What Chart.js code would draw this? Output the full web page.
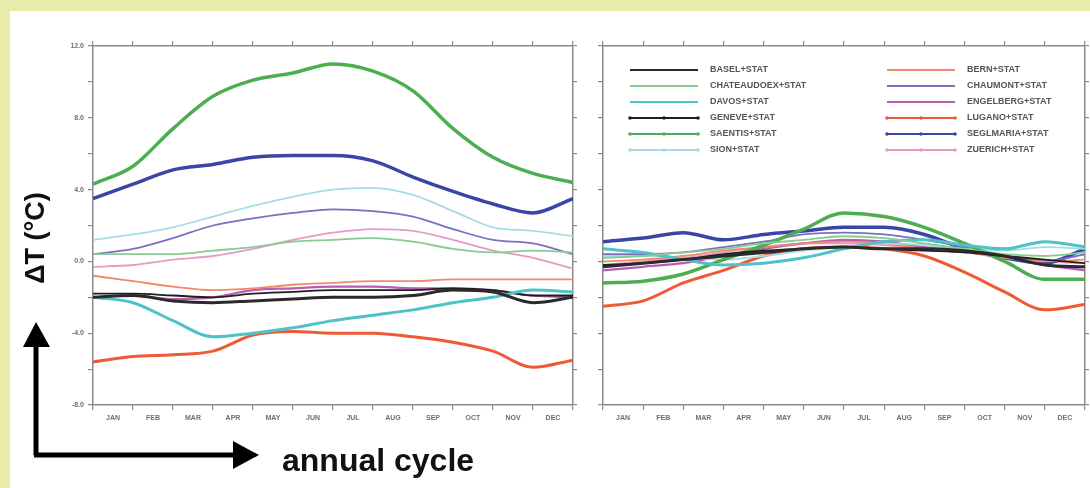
<!DOCTYPE html>
<html>
<head>
<meta charset="utf-8">
<script src="https://cdn.jsdelivr.net/npm/chart.js@4/dist/chart.umd.min.js"></script>
<style>
  html, body { margin: 0; padding: 0; }
  body { width: 1090px; height: 488px; background: #e8eca8; position: relative; overflow: hidden; font-family: 'Liberation Sans', Arial, sans-serif; }
  #sheet { position: absolute; left: 10px; top: 11px; width: 1080px; height: 477px; background: #fff; }
  .panel { position: absolute; }
  #leftBox { left: 50px; top: 37px; width: 535px; height: 399px; }
  #rightBox { left: 590px; top: 37px; width: 500px; height: 399px; }
  #ylab { position: absolute; left: 35px; top: 238px; transform: translate(-50%, -50%) rotate(-90deg); font-weight: bold; font-size: 27px; color: #111; white-space: nowrap; }
  #xlab { position: absolute; left: 282px; top: 444px; font-weight: bold; font-size: 32px; line-height: 1; color: #111; white-space: nowrap; }
  #arrows { position: absolute; left: 0; top: 0; }
</style>
</head>
<body>
<div id="sheet"></div>
<div class="panel" id="leftBox"><canvas id="leftChart"></canvas></div>
<div class="panel" id="rightBox"><canvas id="rightChart"></canvas></div>
<svg id="arrows" width="1090" height="488">
  <path d="M36 455 L36 345" stroke="#000" stroke-width="5" fill="none"/>
  <path d="M36 322 L23 347 L50 347 Z" fill="#000"/>
  <path d="M34 455 L236 455" stroke="#000" stroke-width="5" fill="none"/>
  <path d="M259 455 L233 441 L233 469 Z" fill="#000"/>
</svg>
<div id="ylab">ΔT (°C)</div>
<div id="xlab">annual cycle</div>
<script>
// month boundaries (x positions of the values) and month names (labels at centres)
const monthEdges = [0, 1, 2, 3, 4, 5, 6, 7, 8, 9, 10, 11, 12];
const monthLabels = ['JAN', 'FEB', 'MAR', 'APR', 'MAY', 'JUN', 'JUL', 'AUG', 'SEP', 'OCT', 'NOV', 'DEC'];
const yTicks = [-8, -6, -4, -2, 0, 2, 4, 6, 8, 10, 12];

const stations = ['BASEL+STAT', 'CHATEAUDOEX+STAT', 'DAVOS+STAT', 'GENEVE+STAT', 'SAENTIS+STAT', 'SION+STAT',
                  'BERN+STAT', 'CHAUMONT+STAT', 'ENGELBERG+STAT', 'LUGANO+STAT', 'SEGLMARIA+STAT', 'ZUERICH+STAT'];
const stationColors = ['#2a2a2a', '#86cc93', '#4fc2c8', '#1e1e1e', '#4cae50', '#a2dde2',
                       '#f2896a', '#7b6fc0', '#b85cb6', '#ee5a35', '#3a46a6', '#e79ac8'];
const lineWidths = [3, 1.8, 3, 1.8, 3.5, 1.8, 1.8, 1.8, 2.2, 3, 3.5, 1.8];
const hasMarkers = [false, false, false, true, true, true, false, false, false, true, true, true];

// left panel: dT at month boundaries
const leftBasel       = [-2.0, -1.9, -2.2, -2.3, -2.2, -2.1, -2.0, -2.0, -1.9, -1.6, -1.7, -2.3, -2.0];
const leftChateaudoex = [0.4, 0.4, 0.4, 0.6, 0.8, 1.1, 1.2, 1.3, 1.1, 0.7, 0.5, 0.6, 0.5];
const leftDavos       = [-2.0, -2.3, -3.3, -4.2, -4.0, -3.7, -3.3, -3.0, -2.7, -2.3, -2.0, -1.6, -1.7];
const leftGeneve      = [-1.8, -1.8, -1.9, -2.0, -1.8, -1.7, -1.6, -1.6, -1.6, -1.5, -1.6, -1.9, -1.9];
const leftSaentis     = [4.3, 5.3, 7.4, 9.2, 10.1, 10.5, 11.0, 10.6, 9.5, 7.4, 5.8, 4.9, 4.4];
const leftSion        = [1.2, 1.5, 1.9, 2.5, 3.1, 3.6, 4.0, 4.1, 3.7, 2.8, 1.9, 1.7, 1.4];
const leftBern        = [-0.8, -1.1, -1.4, -1.6, -1.5, -1.3, -1.2, -1.1, -1.1, -1.0, -1.0, -1.0, -1.0];
const leftChaumont    = [0.4, 0.7, 1.3, 2.0, 2.4, 2.7, 2.9, 2.8, 2.5, 1.8, 1.2, 1.0, 0.4];
const leftEngelberg   = [-2.0, -1.9, -2.1, -2.0, -1.6, -1.5, -1.4, -1.4, -1.5, -1.5, -1.6, -1.9, -2.0];
const leftLugano      = [-5.6, -5.3, -5.2, -5.0, -4.1, -3.9, -4.0, -4.0, -4.2, -4.5, -5.0, -5.9, -5.5];
const leftSeglmaria   = [3.5, 4.3, 5.1, 5.4, 5.8, 5.9, 5.9, 5.6, 4.7, 3.9, 3.2, 2.7, 3.5];
const leftZuerich     = [-0.3, -0.2, 0.1, 0.3, 0.7, 1.2, 1.6, 1.8, 1.7, 1.2, 0.6, 0.2, -0.4];

// right panel: dT at month boundaries
const rightBasel       = [-0.3, -0.1, 0.1, 0.3, 0.5, 0.7, 0.8, 0.7, 0.7, 0.6, 0.3, -0.2, -0.3];
const rightChateaudoex = [0.2, 0.3, 0.5, 0.7, 1.0, 1.2, 1.4, 1.3, 1.0, 0.7, 0.4, 0.3, 0.5];
const rightDavos       = [0.7, 0.5, 0.1, -0.2, -0.1, 0.2, 0.7, 1.1, 1.2, 0.9, 0.7, 1.1, 0.8];
const rightGeneve      = [-0.2, -0.1, 0.1, 0.4, 0.6, 0.7, 0.8, 0.7, 0.6, 0.5, 0.3, 0.1, -0.1];
const rightSaentis     = [-1.2, -1.1, -0.7, 0.1, 0.9, 1.8, 2.7, 2.5, 1.9, 1.0, 0.0, -1.0, -1.0];
const rightSion        = [0.3, 0.3, 0.2, 0.1, 0.3, 0.6, 0.8, 1.0, 0.9, 0.7, 0.6, 0.8, 0.7];
const rightBern        = [0.0, 0.1, 0.3, 0.6, 0.8, 1.0, 1.1, 1.0, 0.7, 0.5, 0.2, 0.0, 0.1];
const rightChaumont    = [0.4, 0.4, 0.5, 0.8, 1.1, 1.5, 1.6, 1.5, 1.2, 0.8, 0.3, 0.0, 0.4];
const rightEngelberg   = [-0.5, -0.3, -0.1, 0.3, 0.7, 1.0, 1.2, 1.1, 0.8, 0.6, 0.3, -0.2, -0.5];
const rightLugano      = [-2.5, -2.2, -1.2, -0.5, 0.3, 0.7, 0.8, 0.7, 0.3, -0.6, -1.7, -2.7, -2.4];
const rightSeglmaria   = [1.1, 1.3, 1.6, 1.2, 1.5, 1.7, 1.9, 1.9, 1.5, 0.7, 0.2, -0.1, 0.7];
const rightZuerich     = [-0.2, 0.0, 0.2, 0.5, 0.8, 1.0, 1.0, 0.9, 0.7, 0.5, 0.3, 0.0, -0.1];

const leftValues = [leftBasel, leftChateaudoex, leftDavos, leftGeneve, leftSaentis, leftSion,
                    leftBern, leftChaumont, leftEngelberg, leftLugano, leftSeglmaria, leftZuerich];
const rightValues = [rightBasel, rightChateaudoex, rightDavos, rightGeneve, rightSaentis, rightSion,
                     rightBern, rightChaumont, rightEngelberg, rightLugano, rightSeglmaria, rightZuerich];

const axisColor = '#8a8a8a';
const labelColor = '#6e6e6e';
const tickFont = { family: "'Liberation Sans', Arial, sans-serif", size: 7, weight: 'bold' };

// Two column station key, drawn into the right panel
const stationKey = {
    id: 'stationKey',
    afterDatasetsDraw(chart, args, opts) {
        if (!opts.show) return;
        const ctx = chart.ctx;
        const ca = chart.chartArea;
        ctx.save();
        ctx.font = "bold 9px 'Liberation Sans', Arial, sans-serif";
        ctx.textBaseline = 'middle';
        chart.data.datasets.forEach((ds, i) => {
            const col = i < 6 ? 0 : 1;
            const row = i % 6;
            const x0 = ca.left + (col ? 284 : 27);
            const x1 = x0 + 68;
            const y = ca.top + 24 + row * 16;
            ctx.strokeStyle = ds.borderColor;
            ctx.lineWidth = 2;
            ctx.beginPath();
            ctx.moveTo(x0, y);
            ctx.lineTo(x1, y);
            ctx.stroke();
            if (hasMarkers[i]) {
                ctx.fillStyle = ds.borderColor;
                [x0, (x0 + x1) / 2, x1].forEach(px => {
                    ctx.beginPath();
                    ctx.arc(px, y, 1.8, 0, Math.PI * 2);
                    ctx.fill();
                });
            }
            ctx.fillStyle = '#555';
            ctx.fillText(ds.label, x1 + 12, y);
        });
        ctx.restore();
    }
};

function makePanel(canvasId, values, showYLabels, showKey, yAxisWidth, rightWidth) {
    const datasets = stations.map((name, i) => ({
        label: name,
        data: monthEdges.map((m, j) => ({ x: m, y: values[i][j] })),
        borderColor: stationColors[i],
        borderWidth: lineWidths[i],
        pointRadius: 0,
        cubicInterpolationMode: 'monotone',
        fill: false
    }));

    return new Chart(canvasId, {
        type: 'line',
        data: { datasets },
        plugins: [stationKey],
        options: {
            responsive: true,
            maintainAspectRatio: false,
            animation: false,
            layout: { padding: 0 },
            plugins: {
                legend: { display: false },
                tooltip: { enabled: false },
                stationKey: { show: showKey }
            },
            scales: {
                x: {
                    type: 'linear', min: 0, max: 12,
                    afterBuildTicks: s => {
                        s.ticks = [];
                        for (let v = 0; v <= 12; v += 0.5) s.ticks.push({ value: v });
                    },
                    ticks: {
                        autoSkip: false, maxRotation: 0, padding: 4,
                        color: labelColor, font: tickFont,
                        callback: v => Number.isInteger(v) ? '' : monthLabels[Math.floor(v)]
                    },
                    grid: {
                        drawOnChartArea: false, tickLength: 5, lineWidth: 1.2,
                        tickColor: c => Number.isInteger(c.tick.value) ? axisColor : 'rgba(0,0,0,0)'
                    },
                    border: { color: axisColor, width: 1.5 },
                    afterFit: s => { s.height = 31; }
                },
                xTop: {
                    type: 'linear', position: 'top', min: 0, max: 12,
                    ticks: { stepSize: 1, display: false },
                    grid: { drawOnChartArea: false, tickLength: 5, lineWidth: 1.2, tickColor: axisColor },
                    border: { color: axisColor, width: 1.5 },
                    afterFit: s => { s.height = 9; }
                },
                y: {
                    type: 'linear', min: -8, max: 12,
                    afterBuildTicks: s => { s.ticks = yTicks.map(v => ({ value: v })); },
                    ticks: {
                        display: showYLabels, padding: 4,
                        color: labelColor, font: tickFont,
                        callback: v => v % 4 === 0 ? v.toFixed(1) : ''
                    },
                    grid: { drawOnChartArea: false, tickLength: 5, lineWidth: 1.2, tickColor: axisColor },
                    border: { color: axisColor, width: 1.5 },
                    afterFit: s => { s.width = yAxisWidth; }
                },
                yRight: {
                    type: 'linear', position: 'right', min: -8, max: 12,
                    afterBuildTicks: s => { s.ticks = yTicks.map(v => ({ value: v })); },
                    ticks: { display: false },
                    grid: { drawOnChartArea: false, tickLength: 4, lineWidth: 1.2, tickColor: axisColor },
                    border: { color: axisColor, width: 1.5 },
                    afterFit: s => { s.width = rightWidth; }
                }
            }
        }
    });
}

makePanel('leftChart', leftValues, true, false, 43, 12);
makePanel('rightChart', rightValues, false, true, 13, 5);
</script>
</body>
</html>
